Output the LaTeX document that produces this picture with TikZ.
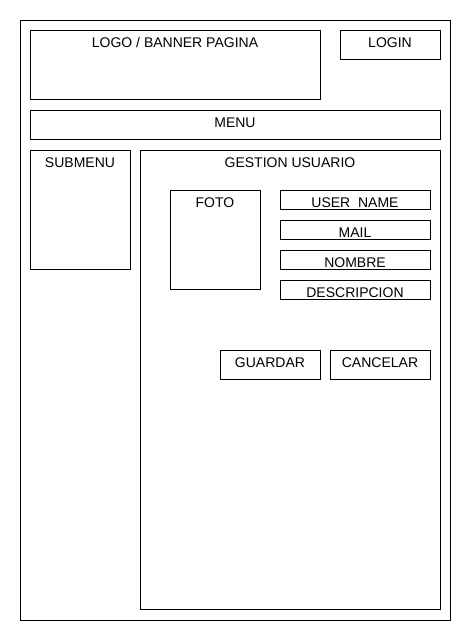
\documentclass[tikz,border=0pt]{standalone}
\usepackage{fontspec}
\setmainfont{Liberation Sans}
\begin{document}
\begin{tikzpicture}[x=1pt,y=-1pt,
  box/.style={draw=black,line width=0.9pt,rectangle,inner sep=0pt,outer sep=0pt,anchor=north west},
  lbl/.style={anchor=base,inner sep=0pt,font=\fontsize{14pt}{16pt}\selectfont}]
\useasboundingbox[fill=white] (0,0) rectangle (470,640);
\node[box,minimum width=430pt,minimum height=600pt] (page) at (20,20) {};
\node[box,minimum width=290pt,minimum height=69pt] (logo) at (30,30) {};
\node[box,minimum width=100pt,minimum height=29pt] (login) at (340,30) {};
\node[box,minimum width=410pt,minimum height=29pt] (menu) at (30,110) {};
\node[box,minimum width=100pt,minimum height=119pt] (submenu) at (30,150) {};
\node[box,minimum width=300pt,minimum height=459pt] (gestion) at (140,150) {};
\node[box,minimum width=90pt,minimum height=99pt] (foto) at (170,190) {};
\node[box,minimum width=150pt,minimum height=19pt] (user) at (280,190) {};
\node[box,minimum width=150pt,minimum height=19pt] (mail) at (280,220) {};
\node[box,minimum width=150pt,minimum height=19pt] (nombre) at (280,250) {};
\node[box,minimum width=150pt,minimum height=19pt] (desc) at (280,280) {};
\node[box,minimum width=100pt,minimum height=29pt] (guardar) at (220,350) {};
\node[box,minimum width=100pt,minimum height=29pt] (cancelar) at (330,350) {};
\node[lbl] (tlogo) at ([yshift=-17pt]logo.north) {LOGO / BANNER PAGINA};
\node[lbl] (tlogin) at ([yshift=-17pt]login.north) {LOGIN};
\node[lbl] (tmenu) at ([yshift=-17pt]menu.north) {MENU};
\node[lbl] (tsub) at ([yshift=-17pt]submenu.north) {SUBMENU};
\node[lbl] (tgest) at ([yshift=-17pt]gestion.north) {GESTION USUARIO};
\node[lbl] (tfoto) at ([yshift=-17pt]foto.north) {FOTO};
\node[lbl] (tuser) at ([yshift=-17pt]user.north) {USER\ \ NAME};
\node[lbl] (tmail) at ([yshift=-17pt]mail.north) {MAIL};
\node[lbl] (tnom) at ([yshift=-17pt]nombre.north) {NOMBRE};
\node[lbl] (tdesc) at ([yshift=-17pt]desc.north) {DESCRIPCION};
\node[lbl] (tguar) at ([yshift=-17pt]guardar.north) {GUARDAR};
\node[lbl] (tcanc) at ([yshift=-17pt]cancelar.north) {CANCELAR};
\end{tikzpicture}
\end{document}
